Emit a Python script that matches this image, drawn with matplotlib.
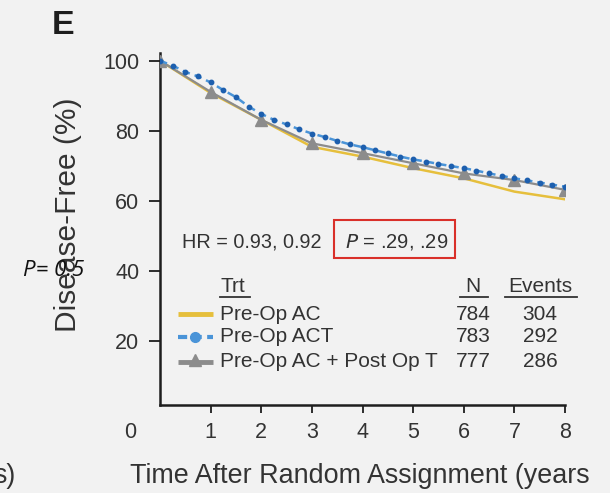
import matplotlib
matplotlib.use("Agg")
import matplotlib.pyplot as plt
from matplotlib.patches import Rectangle

# Data (disease-free %, by years)
years = [0, 1, 2, 3, 4, 5, 6, 7, 8]
pre_op_ac = [100, 90.8, 83.1, 75.4, 72.6, 69.3, 66.4, 62.6, 60.4]
post_op_t = [100, 91.1, 83.1, 76.4, 73.6, 70.7, 67.8, 65.9, 63.1]

act_years = [0, 0.25, 0.5, 0.75, 1.0, 1.25, 1.5, 1.75, 2.0, 2.25, 2.5, 2.75,
             3.0, 3.25, 3.5, 3.75, 4.0, 4.25, 4.5, 4.75, 5.0, 5.25, 5.5, 5.75,
             6.0, 6.25, 6.5, 6.75, 7.0, 7.25, 7.5, 7.75, 8.0]
pre_op_act = [100, 98.6, 96.8, 95.5, 93.8, 91.6, 89.6, 86.9, 84.8, 83.1, 81.8, 80.4,
              79.2, 78.2, 77.1, 76.1, 75.3, 74.4, 73.5, 72.6, 71.8, 71.2, 70.5, 69.9,
              69.3, 68.6, 67.8, 67.1, 66.4, 65.8, 65.2, 64.6, 64.0]

trt_labels = ["Pre-Op AC", "Pre-Op ACT", "Pre-Op AC + Post Op T"]
n_values = ["784", "783", "777"]
events = ["304", "292", "286"]
hr_text = "HR = 0.93, 0.92"
p_text = "$P$ = .29, .29"

YELLOW = "#e6bf3c"
BLUE_LINE = "#4a94d8"
BLUE_DOT = "#1d5fae"
GREY = "#8c8c8c"
TEXT = "#333333"
BG = "#f2f2f2"

plt.rcParams["font.family"] = ["Liberation Sans", "DejaVu Sans"]

fig = plt.figure(figsize=(6.1, 4.93), dpi=100, facecolor=BG)
ax = fig.add_axes([160 / 610, 88 / 493, 405 / 610, 352 / 493])
ax.set_facecolor(BG)

ax.plot(years, pre_op_ac, color=YELLOW, lw=1.8, zorder=3)
ax.plot(years, post_op_t, color=GREY, lw=1.6, marker="^", ms=8,
        markeredgecolor=GREY, zorder=4)
ax.plot(act_years, pre_op_act, color=BLUE_LINE, lw=1.8, ls=(0, (3, 2)),
        marker="o", ms=3.2, markerfacecolor=BLUE_DOT, markeredgecolor=BLUE_DOT, zorder=5)

ax.set_xlim(0, 8)
ax.set_ylim(1.63, 102.2)
for s in ["top", "right"]:
    ax.spines[s].set_visible(False)
for s in ["left", "bottom"]:
    ax.spines[s].set_linewidth(1.8)
    ax.spines[s].set_color("#1e1e1e")

ax.set_xticks(years[1:])
ax.set_xticklabels([str(y) for y in years[1:]])
ax.set_yticks([20, 40, 60, 80, 100])
ax.tick_params(axis="both", direction="out", width=1.3, color="#1e1e1e",
               labelsize=15.5, labelcolor=TEXT)
ax.tick_params(axis="y", length=8, pad=7)
ax.tick_params(axis="x", length=6, pad=6)

fig.text(130 / 610, 1 - 432 / 493, "0", fontsize=15.5, color=TEXT,
         ha="center", va="center")
fig.text(68 / 610, 1 - 215 / 493, "Disease-Free (%)", rotation=90, fontsize=21.5,
         color=TEXT, ha="center", va="center")
fig.text(130 / 610, 1 - 476 / 493, "Time After Random Assignment (years",
         fontsize=19.4, color=TEXT, ha="left", va="center")
fig.text(16 / 610, 1 - 476 / 493, "s)", fontsize=19.4, color=TEXT,
         ha="right", va="center")
fig.text(52 / 610, 1 - 25 / 493, "E", fontsize=24.5, fontweight="bold",
         color="#1e1e1e", ha="left", va="center")
fig.text(23 / 610, 1 - 271 / 493, "P= 0.5", fontsize=16, style="italic",
         color="#111111", ha="left", va="center", family=["Open Sans", "DejaVu Sans"])

# HR / P annotation
ax.text(0.43, 48.3, hr_text, fontsize=14.3, color=TEXT, va="center")
ax.text(3.66, 48.3, p_text, fontsize=14.5, color=TEXT, va="center")
ax.add_patch(Rectangle((3.44, 43.6), 2.39, 10.8, fill=False,
                       edgecolor="#d9302a", lw=1.5, zorder=6))

# table-style legend
row_y = [27.5, 21.1, 14.0]
ax.text(1.19, 35.4, "Trt", fontsize=15, color=TEXT, va="center")
ax.text(6.19, 35.4, "N", fontsize=15, color=TEXT, va="center", ha="center")
ax.text(7.51, 35.4, "Events", fontsize=15, color=TEXT, va="center", ha="center")
for x0, x1 in [(1.19, 1.78), (5.93, 6.48), (6.82, 8.24)]:
    ax.plot([x0, x1], [32.6, 32.6], color=TEXT, lw=1.3, clip_on=False)

ax.plot([0.36, 1.05], [row_y[0]] * 2, color=YELLOW, lw=3.5, solid_capstyle="butt")
ax.plot([0.36, 1.05], [row_y[1]] * 2, color=BLUE_LINE, lw=3.0, ls=(0, (2.2, 1.3)))
ax.plot([0.7], [row_y[1]], "o", ms=7, color=BLUE_LINE)
ax.plot([0.36, 1.05], [row_y[2]] * 2, color=GREY, lw=3.5, solid_capstyle="butt")
ax.plot([0.7], [row_y[2] + 0.6], "^", ms=8, color=GREY)

for y, lab, n, ev in zip(row_y, trt_labels, n_values, events):
    ax.text(1.19, y, lab, fontsize=15, color=TEXT, va="center")
    ax.text(6.19, y, n, fontsize=15, color=TEXT, va="center", ha="center")
    ax.text(7.51, y, ev, fontsize=15, color=TEXT, va="center", ha="center")

fig.savefig("out.png", dpi=100, facecolor=BG)
